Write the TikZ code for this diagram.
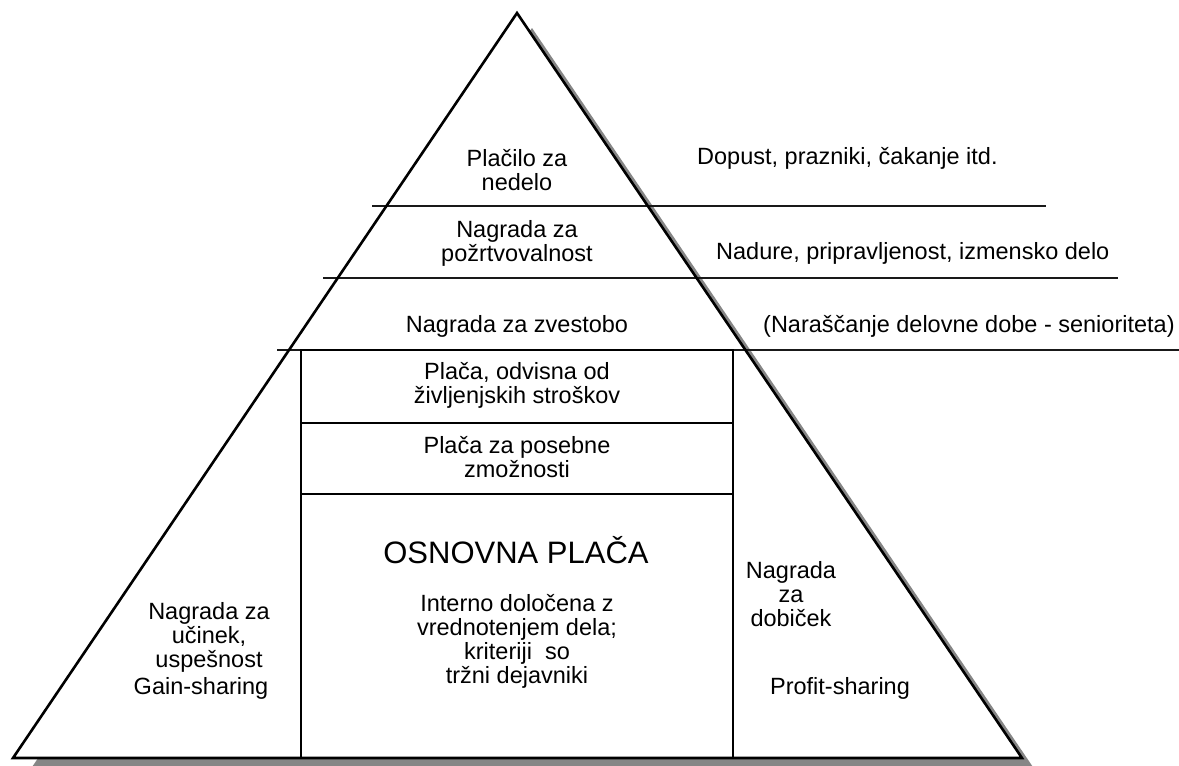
\documentclass[tikz,border=0pt]{standalone}
\usepackage{fontspec}
\setmainfont{Liberation Sans}
\begin{document}
\begin{tikzpicture}[x=1pt,y=-1pt,
  lbl/.style={inner sep=0pt,align=center,font=\fontsize{23.5}{24}\selectfont},
  side/.style={lbl,anchor=west},
  bar/.style={line width=1.8pt,black!90},
  edge/.style={line width=2.6pt,line join=miter},
  cell/.style={line width=1.5pt}]
\useasboundingbox (0,0) rectangle (1179,766);
\clip (0,0) rectangle (1179,766);
\fill[white] (0,0) rectangle (1179,766);

% pyramid corners
\coordinate (apex) at (517,13);
\coordinate (bl) at (13,758);
\coordinate (br) at (1022,758);

% drop shadow and white body
\fill[gray!95] ([shift={(15,15)}]apex) -- ([shift={(15,15)}]bl) -- ([shift={(15,15)}]br) -- cycle;
\fill[white] (apex) -- (bl) -- (br) -- cycle;

% tier lines reaching out to the right
\draw[bar] (372,206) -- (1046,206);
\draw[bar] (323,278) -- (1118,278);
\draw[bar] (277,350) -- (1179,350);

% central column of base pay
\draw[cell] (301,350) rectangle (733,758);
\draw[line width=2.2pt] (301,350) -- (733,350);
\draw[cell] (301,423) -- (733,423);
\draw[cell] (301,494) -- (733,494);

% pyramid outline
\draw[edge] (apex) -- (bl) -- (br) -- cycle;

% labels inside the pyramid
\node[lbl] (nedelo) at (517,170) {Plačilo za\\nedelo};
\node[lbl] (pozrt) at (517,243) {Nagrada za\\požrtvovalnost};
\node[lbl] (zvest) at (517,326) {Nagrada za zvestobo};
\node[lbl] (stroski) at (517,385) {Plača, odvisna od\\življenjskih stroškov};
\node[lbl] (posebne) at (517,457) {Plača za posebne\\zmožnosti};
\node[lbl,font=\fontsize{31}{34}\selectfont] (osnovna) at (516,550) {OSNOVNA PLAČA};
\node[lbl] (interno) at (517,641) {Interno določena z\\vrednotenjem dela;\\kriteriji\ \ so\\tržni dejavniki};
\node[lbl] (ucinek) at (209,637) {Nagrada za\\učinek,\\uspešnost};
\node[lbl] (gain) at (201,688) {Gain-sharing};
\node[lbl] (dobicek) at (791,594) {Nagrada\\za\\dobiček};
\node[lbl] (profit) at (840,688) {Profit-sharing};

% notes beside the tiers
\node[side] (dopust) at (697,158) {Dopust, prazniki, čakanje itd.};
\node[side] (nadure) at (716,253) {Nadure, pripravljenost, izmensko delo};
\node[side] (senior) at (763,326) {(Naraščanje delovne dobe - senioriteta)};
\end{tikzpicture}
\end{document}
